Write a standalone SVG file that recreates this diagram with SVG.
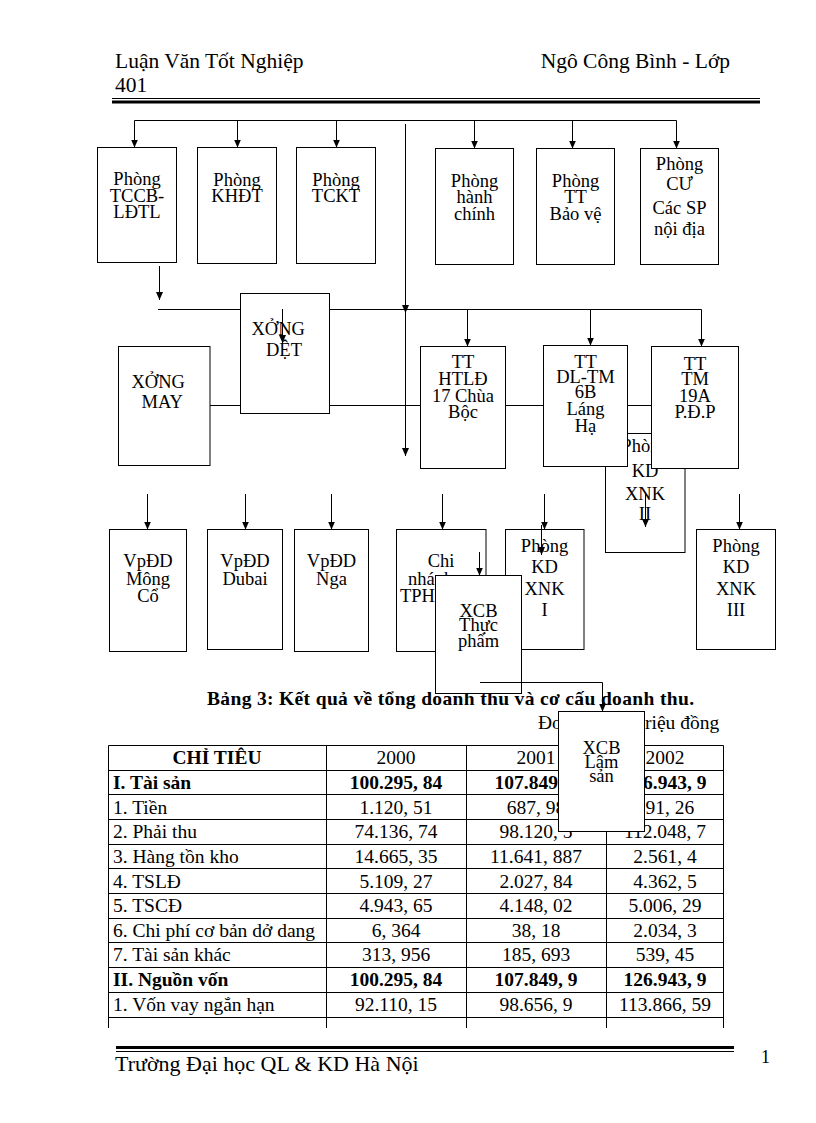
<svg xmlns="http://www.w3.org/2000/svg" width="816" height="1123" viewBox="0 0 816 1123">
<style>
text{font-family:"Liberation Serif","Times New Roman",serif;fill:#000}
.h{font-size:21.5px}
.n{font-size:18.5px;text-anchor:middle}
.ns{font-size:18.5px}
.c{font-size:19.5px}
.m{text-anchor:middle}
.b{font-weight:bold}
.box{fill:#fff;stroke:#000;stroke-width:1}
.ln{fill:none;stroke:#000;stroke-width:1}
.ar{fill:none;stroke:#000;stroke-width:1;marker-end:url(#ah)}
.tl{fill:none;stroke:#000;stroke-width:1}
</style>
<defs>
<marker id="ah" markerUnits="userSpaceOnUse" markerWidth="8" markerHeight="8" refX="8" refY="4" orient="auto"><path d="M0,0.5 L8,4 L0,7.5 z" fill="#000"/></marker>
</defs>
<rect width="816" height="1123" fill="#fff"/>

<g id="header">
<text class="h" x="115" y="68">Luận Văn Tốt Nghiệp</text>
<text class="h" x="730" y="68" text-anchor="end">Ngô Công Bình - Lớp</text>
<text class="h" x="115" y="92">401</text>
<line x1="112" y1="98.5" x2="760" y2="98.5" stroke="#000" stroke-width="1"/>
<line x1="112" y1="102" x2="760" y2="102" stroke="#000" stroke-width="3"/>
</g>

<g id="footer">
<line x1="116" y1="1047.5" x2="734" y2="1047.5" stroke="#000" stroke-width="3"/>
<line x1="116" y1="1051.5" x2="734" y2="1051.5" stroke="#000" stroke-width="1"/>
<text x="115" y="1071" font-size="22">Trường Đại học QL &amp; KD Hà Nội</text>
<text x="761" y="1063" font-size="18">1</text>
</g>

<g id="table">
<text class="c b" x="207" y="705" textLength="487" lengthAdjust="spacing">Bảng 3: Kết quả về tổng doanh thu và cơ cấu doanh thu.</text>
<text class="c" x="538" y="729">Đơn vị: T<tspan x="645">riệu đồng</tspan></text>
<path class="tl" d="M108.5,745.5 H723.5 M108.5,770.5 H723.5 M108.5,794.5 H723.5 M108.5,819.5 H723.5 M108.5,844.5 H723.5 M108.5,868.5 H723.5 M108.5,893.5 H723.5 M108.5,918.5 H723.5 M108.5,942.5 H723.5 M108.5,967.5 H723.5 M108.5,992.5 H723.5 M108.5,1017.5 H723.5 M108.5,745.5 V1028 M326.5,745.5 V1028 M466.5,745.5 V1028 M606.5,745.5 V1028 M723.5,745.5 V1028"/>
<text class="c b m" x="217" y="764">CHỈ TIÊU</text>
<text class="c m" x="396" y="764">2000</text>
<text class="c m" x="536" y="764">2001</text>
<text class="c m" x="665" y="764">2002</text>

<text class="c b" x="113" y="789">I. Tài sản</text>
<text class="c b m" x="396" y="789">100.295, 84</text>
<text class="c b m" x="536" y="789">107.849, 9</text>
<text class="c b m" x="665" y="789">126.943, 9</text>

<text class="c" x="113" y="813.5">1. Tiền</text>
<text class="c m" x="396" y="813.5">1.120, 51</text>
<text class="c m" x="536" y="813.5">687, 98</text>
<text class="c m" x="665" y="813.5">391, 26</text>

<text class="c" x="113" y="838">2. Phải thu</text>
<text class="c m" x="396" y="838">74.136, 74</text>
<text class="c m" x="536" y="838">98.120, 5</text>
<text class="c m" x="665" y="838">112.048, 7</text>

<text class="c" x="113" y="862.5">3. Hàng tồn kho</text>
<text class="c m" x="396" y="862.5">14.665, 35</text>
<text class="c m" x="536" y="862.5">11.641, 887</text>
<text class="c m" x="665" y="862.5">2.561, 4</text>

<text class="c" x="113" y="887.5">4. TSLĐ</text>
<text class="c m" x="396" y="887.5">5.109, 27</text>
<text class="c m" x="536" y="887.5">2.027, 84</text>
<text class="c m" x="665" y="887.5">4.362, 5</text>

<text class="c" x="113" y="912">5. TSCĐ</text>
<text class="c m" x="396" y="912">4.943, 65</text>
<text class="c m" x="536" y="912">4.148, 02</text>
<text class="c m" x="665" y="912">5.006, 29</text>

<text class="c" x="113" y="936.5">6. Chi phí cơ bản dở dang</text>
<text class="c m" x="396" y="936.5">6, 364</text>
<text class="c m" x="536" y="936.5">38, 18</text>
<text class="c m" x="665" y="936.5">2.034, 3</text>

<text class="c" x="113" y="961">7. Tài sản khác</text>
<text class="c m" x="396" y="961">313, 956</text>
<text class="c m" x="536" y="961">185, 693</text>
<text class="c m" x="665" y="961">539, 45</text>

<text class="c b" x="113" y="986">II. Nguồn vốn</text>
<text class="c b m" x="396" y="986">100.295, 84</text>
<text class="c b m" x="536" y="986">107.849, 9</text>
<text class="c b m" x="665" y="986">126.943, 9</text>

<text class="c" x="113" y="1011">1. Vốn vay ngắn hạn</text>
<text class="c m" x="396" y="1011">92.110, 15</text>
<text class="c m" x="536" y="1011">98.656, 9</text>
<text class="c m" x="665" y="1011">113.866, 59</text>
</g>

<g id="phong-tccb">
<rect class="box" x="97.5" y="147.5" width="79" height="115"/>
<text class="n" x="137" y="185">Phòng</text>
<text class="n" x="137" y="201.7">TCCB-</text>
<text class="n" x="137" y="218.3">LĐTL</text>
</g>
<g id="phong-khdt">
<rect class="box" x="197.5" y="147.5" width="79" height="116"/>
<text class="n" x="237" y="186">Phòng</text>
<text class="n" x="237" y="202">KHĐT</text>
</g>
<g id="phong-tckt">
<rect class="box" x="296.5" y="147.5" width="79" height="116"/>
<text class="n" x="336" y="186">Phòng</text>
<text class="n" x="336" y="202">TCKT</text>
</g>
<g id="phong-hanh-chinh">
<rect class="box" x="435.5" y="148.5" width="78" height="116"/>
<text class="n" x="474.5" y="187">Phòng</text>
<text class="n" x="474.5" y="203.3">hành</text>
<text class="n" x="474.5" y="220">chính</text>
</g>
<g id="phong-tt-bao-ve">
<rect class="box" x="536.5" y="148.5" width="78" height="116"/>
<text class="n" x="575.5" y="187">Phòng</text>
<text class="n" x="575.5" y="203">TT</text>
<text class="n" x="575.5" y="220">Bảo vệ</text>
</g>
<g id="phong-cu">
<rect class="box" x="640.5" y="148.5" width="78" height="116"/>
<text class="n" x="679.5" y="170">Phòng</text>
<text class="n" x="679.5" y="190">CƯ</text>
<text class="n" x="679.5" y="214">Các SP</text>
<text class="n" x="679.5" y="235">nội địa</text>
</g>

<g id="xuong-det">
<rect class="box" x="240.5" y="293.5" width="89" height="120"/>
<text class="ns" x="251.5" y="335">XỞNG</text>
<text class="ns" x="266" y="356">DỆT</text>
</g>
<g id="xuong-may">
<rect class="box" x="118.5" y="346.5" width="91.5" height="119"/>
<text class="ns" x="131.5" y="388">XỞNG</text>
<text class="ns" x="141.5" y="408">MAY</text>
</g>
<g id="tt-htld">
<rect class="box" x="420.5" y="346.5" width="85" height="122"/>
<text class="n" x="463" y="368">TT</text>
<text class="n" x="463" y="385">HTLĐ</text>
<text class="n" x="463" y="401.7">17 Chùa</text>
<text class="n" x="463" y="418">Bộc</text>
</g>
<g id="phong-kd-xnk-2">
<rect class="box" x="605.5" y="433.5" width="79.5" height="119"/>
<text class="n" x="645" y="452">Phòng</text>
<text class="n" x="645" y="477">KD</text>
<text class="n" x="645" y="500">XNK</text>
<text class="n" x="645" y="520">II</text>
</g>
<g id="tt-dl-tm">
<rect class="box" x="543.5" y="345.5" width="84" height="121"/>
<text class="n" x="585.5" y="368.3">TT</text>
<text class="n" x="585.5" y="383.3">DL-TM</text>
<text class="n" x="585.5" y="398.3">6B</text>
<text class="n" x="585.5" y="415">Láng</text>
<text class="n" x="585.5" y="431.7">Hạ</text>
</g>
<g id="tt-tm-19a">
<rect class="box" x="651.5" y="346.5" width="87" height="122"/>
<text class="n" x="695" y="370">TT</text>
<text class="n" x="695" y="385">TM</text>
<text class="n" x="695" y="401.7">19A</text>
<text class="n" x="695" y="418.3">P.Đ.P</text>
</g>

<g id="vpdd-mong-co">
<rect class="box" x="109.5" y="529.5" width="77" height="122"/>
<text class="n" x="148" y="567">VpĐD</text>
<text class="n" x="148" y="585">Mông</text>
<text class="n" x="148" y="602">Cổ</text>
</g>
<g id="vpdd-dubai">
<rect class="box" x="207.5" y="529.5" width="75" height="120"/>
<text class="n" x="245" y="567">VpĐD</text>
<text class="n" x="245" y="585">Dubai</text>
</g>
<g id="vpdd-nga">
<rect class="box" x="294.5" y="529.5" width="74" height="122"/>
<text class="n" x="331.5" y="567">VpĐD</text>
<text class="n" x="331.5" y="585">Nga</text>
</g>
<g id="chi-nhanh">
<rect class="box" x="396.5" y="529.5" width="89.5" height="122"/>
<text class="n" x="441" y="567">Chi</text>
<text class="ns" x="408" y="585">nhánh</text>
<text class="ns" x="400" y="602">TPHCM</text>
</g>
<g id="phong-kd-xnk-1">
<rect class="box" x="505.5" y="529.5" width="78.5" height="120"/>
<text class="n" x="544.5" y="552">Phòng</text>
<text class="n" x="544.5" y="573">KD</text>
<text class="n" x="544.5" y="594.5">XNK</text>
<text class="n" x="544.5" y="616">I</text>
</g>
<g id="phong-kd-xnk-3">
<rect class="box" x="696.5" y="529.5" width="79" height="120"/>
<text class="n" x="736" y="552">Phòng</text>
<text class="n" x="736" y="573">KD</text>
<text class="n" x="736" y="594.5">XNK</text>
<text class="n" x="736" y="616">III</text>
</g>
<g id="xcb-thuc-pham">
<rect class="box" x="435.5" y="575.5" width="86" height="118"/>
<text class="n" x="478.5" y="617">XCB</text>
<text class="n" x="478.5" y="631">Thực</text>
<text class="n" x="478.5" y="647">phẩm</text>
</g>
<g id="xcb-lam-san">
<rect class="box" x="558.5" y="711.5" width="86" height="120"/>
<text class="n" x="601.5" y="754">XCB</text>
<text class="n" x="601.5" y="768">Lâm</text>
<text class="n" x="601.5" y="782">sản</text>
</g>

<g id="connectors">
<path class="ln" d="M134.5,120.5 H676.5"/>
<path class="ar" d="M134.5,120.5 V147.5"/>
<path class="ar" d="M237.5,120.5 V147.5"/>
<path class="ar" d="M336.5,120.5 V147.5"/>
<path class="ar" d="M474.5,120.5 V148.5"/>
<path class="ar" d="M572.5,120.5 V148.5"/>
<path class="ar" d="M676.5,120.5 V148.5"/>
<path class="ar" d="M405.5,124 V313"/>
<path class="ar" d="M405.5,313 V456"/>
<path class="ar" d="M159.5,266 V300"/>
<path class="ln" d="M158,309.5 H240.5 M329.5,309.5 H701.5"/>
<path class="ar" d="M467.5,309.5 V346.5"/>
<path class="ar" d="M590.5,309.5 V345.5"/>
<path class="ar" d="M701.5,309.5 V346.5"/>
<path class="ar" d="M282.5,309 V343"/>
<path class="ln" d="M210,405.5 H240.5 M329.5,405.5 H420.5 M505.5,405.5 H543.5 M627.5,405.5 H651.5"/>
<path class="ar" d="M147.5,494 V529.5"/>
<path class="ar" d="M245.5,494 V529.5"/>
<path class="ar" d="M331.5,494 V529.5"/>
<path class="ar" d="M442.5,494 V529.5"/>
<path class="ar" d="M544.5,494 V529.5"/>
<path class="ar" d="M739.5,494 V529.5"/>
<path class="ar" d="M645.5,493 V527"/>
<path class="ar" d="M541.5,525 V555"/>
<path class="ar" d="M479.5,552 V575.5"/>
<path class="ar" d="M480,682.5 H602.5 V711.5"/>
</g>
</svg>
